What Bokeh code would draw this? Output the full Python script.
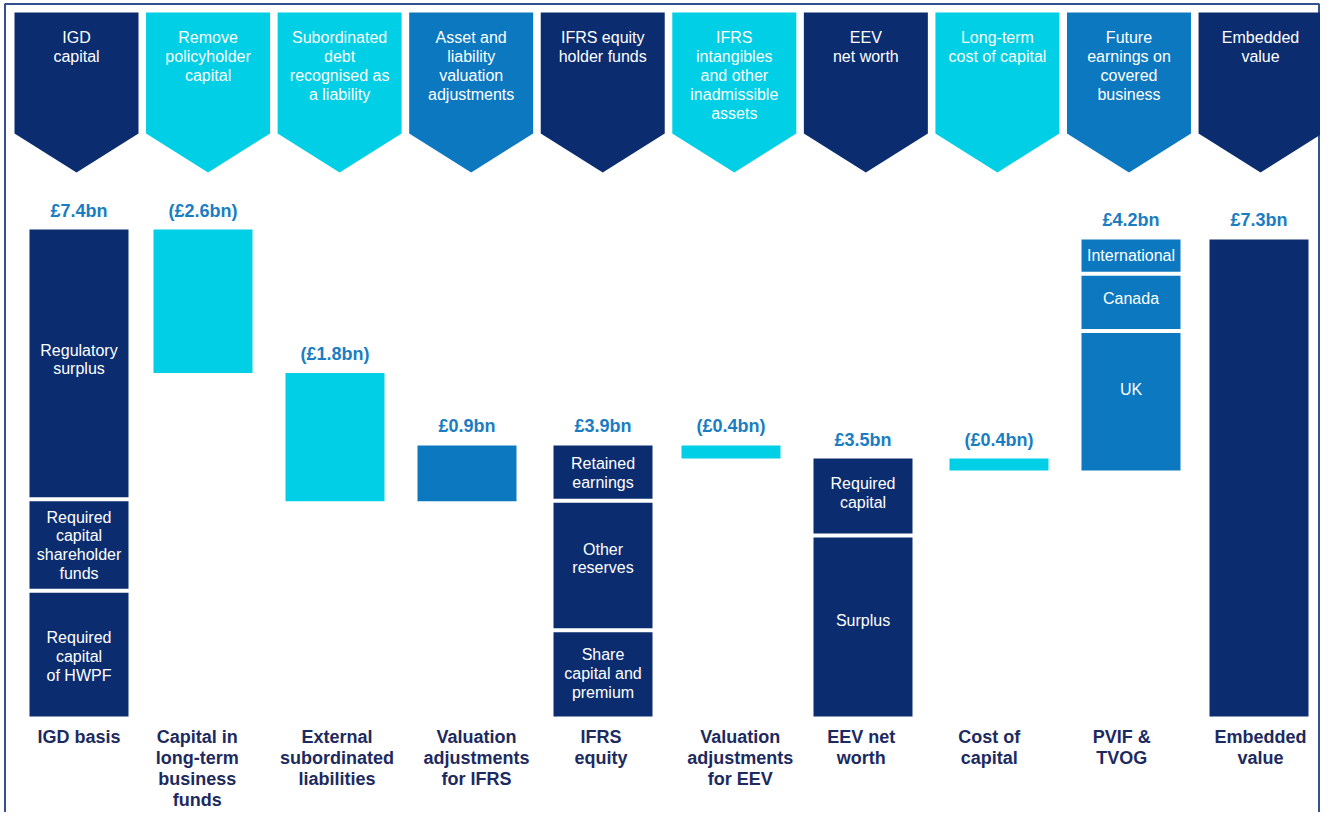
from bokeh.plotting import figure
from bokeh.models import Range1d, ColumnDataSource
from bokeh.core.properties import value
from bokeh.embed import file_html
from bokeh.resources import INLINE

# ---------------- data ----------------
headers = [
    "IGD\ncapital",
    "Remove\npolicyholder\ncapital",
    "Subordinated\ndebt\nrecognised as\na liability",
    "Asset and\nliability\nvaluation\nadjustments",
    "IFRS equity\nholder funds",
    "IFRS\nintangibles\nand other\ninadmissible\nassets",
    "EEV\nnet worth",
    "Long-term\ncost of capital",
    "Future\nearnings on\ncovered\nbusiness",
    "Embedded\nvalue",
]
categories = [
    "IGD basis",
    "Capital in\nlong-term\nbusiness\nfunds",
    "External\nsubordinated\nliabilities",
    "Valuation\nadjustments\nfor IFRS",
    "IFRS\nequity",
    "Valuation\nadjustments\nfor EEV",
    "EEV net\nworth",
    "Cost of\ncapital",
    "PVIF &\nTVOG",
    "Embedded\nvalue",
]
value_labels = ["£7.4bn", "(£2.6bn)", "(£1.8bn)", "£0.9bn", "£3.9bn",
                "(£0.4bn)", "£3.5bn", "(£0.4bn)", "£4.2bn", "£7.3bn"]
# waterfall bar extents in £bn (as drawn)
bar_bottom = [0.00, 5.22, 3.27, 3.27, 0.00, 3.92, 0.00, 3.74, 3.74, 0.00]
bar_top    = [7.40, 7.40, 5.22, 4.12, 4.12, 4.12, 3.92, 3.92, 7.25, 7.25]
kind = ["total", "neg", "neg", "adj", "total", "neg", "total", "neg", "adj", "total"]

# stacked components inside some bars
seg_col    = [0, 0, 0, 4, 4, 4, 6, 6, 8, 8, 8]
seg_bottom = [0.00, 1.91, 3.30, 0.00, 1.31, 3.28, 0.00, 2.75, 3.74, 5.86, 6.73]
seg_top    = [1.91, 3.30, 7.40, 1.31, 3.28, 4.12, 2.75, 3.92, 5.86, 6.73, 7.25]
seg_label  = ["Required\ncapital\nof HWPF", "Required\ncapital\nshareholder\nfunds",
              "Regulatory\nsurplus", "Share\ncapital and\npremium", "Other\nreserves",
              "Retained\nearnings", "Surplus", "Required\ncapital", "UK", "Canada",
              "International"]

# ---------------- style / layout (pixels) ----------------
NAVY = "#0b2d6f"
CYAN = "#00cfe5"
MID = "#0b78c0"
VAL_COLOR = "#1a7dc2"
CAT_COLOR = "#1c2a60"
color_of = {"total": NAVY, "neg": CYAN, "adj": MID}

bar_center_px = [78.5, 202.5, 334.5, 466.5, 602.5, 730.5, 862.5, 998.5, 1130.5, 1258.5]
cat_center_px = [78.4, 196.7, 336.5, 475.9, 600.6, 739.8, 860.7, 988.8, 1121.2, 1260.0]
seg_label_shift_px = [3, 0, -5, 0, -7, 0, -6, -4, -11, -4, -1]
BAR_HALF_PX = 49.5

W, H = 1320, 812
PX_BN = 65.8          # pixels per £bn
Y0 = 716              # pixel row of zero


def ypx(fy):  # pixel row -> data value
    return (Y0 - fy) / PX_BN


p = figure(width=W, height=H, output_backend="svg", toolbar_location=None,
           x_range=Range1d(0, W), y_range=Range1d(ypx(H), ypx(0)),
           x_axis_type=None, y_axis_type=None, min_border=0)
p.grid.visible = False
p.outline_line_color = None
p.background_fill_color = "white"
p.border_fill_color = "white"

n = len(categories)

# frame
fc = "#34508f"
p.multi_line(xs=[[4.5, 4.5, 1318.5, 1318.5]],
             ys=[[ypx(H + 20), ypx(3.5), ypx(3.5), ypx(H + 20)]],
             line_color=fc, line_width=2)

# chevrons
cxs, cys, ccol = [], [], []
for i in range(n):
    c = 76 + 131.56 * i
    cxs.append([c - 62, c + 62, c + 62, c, c - 62])
    cys.append([ypx(12), ypx(12), ypx(133), ypx(172), ypx(133)])
    ccol.append(color_of[kind[i]])
p.patches(xs=cxs, ys=cys, fill_color=ccol, line_color=None)

hx, hy, ht = [], [], []
for i, h in enumerate(headers):
    c = 76 + 131.56 * i
    for k, line in enumerate(h.split("\n")):
        hx.append(c)
        hy.append(ypx(37 + 19 * k))
        ht.append(line)
p.text(x="x", y="y", text="t", source=ColumnDataSource(dict(x=hx, y=hy, t=ht)),
       text_font=value("Liberation Sans"), text_font_size="16px",
       text_color="white", text_align="center", text_baseline="middle")

# bars
p.quad(left=[x - BAR_HALF_PX for x in bar_center_px],
       right=[x + BAR_HALF_PX for x in bar_center_px],
       bottom=bar_bottom, top=bar_top,
       fill_color=[color_of[k] for k in kind], line_color=None)

# separators between stacked components
sx0, sx1, sy = [], [], []
for c, t in zip(seg_col, seg_top):
    if abs(t - bar_top[c]) > 1e-6:
        sx0.append(bar_center_px[c] - BAR_HALF_PX - 1)
        sx1.append(bar_center_px[c] + BAR_HALF_PX + 1)
        sy.append(t)
p.segment(x0=sx0, x1=sx1, y0=sy, y1=sy, line_color="white", line_width=4)

# component labels
lx, ly, lt = [], [], []
LH = 18.7 / PX_BN
for c, b, t, lab, sh in zip(seg_col, seg_bottom, seg_top, seg_label, seg_label_shift_px):
    lines = lab.split("\n")
    mid = (b + t) / 2 - sh / PX_BN
    for k, line in enumerate(lines):
        lx.append(bar_center_px[c])
        ly.append(mid + LH * ((len(lines) - 1) / 2 - k))
        lt.append(line)
p.text(x="x", y="y", text="t", source=ColumnDataSource(dict(x=lx, y=ly, t=lt)),
       text_font=value("Liberation Sans"), text_font_size="16px",
       text_color="white", text_align="center", text_baseline="middle")

# value labels
p.text(x=bar_center_px, y=[t + 19 / PX_BN for t in bar_top], text=value_labels,
       text_font=value("Liberation Sans"), text_font_size="18px",
       text_font_style="bold", text_color=VAL_COLOR,
       text_align="center", text_baseline="middle")

# category labels
cx, cy, ct = [], [], []
for i, cat in enumerate(categories):
    for k, line in enumerate(cat.split("\n")):
        cx.append(cat_center_px[i])
        cy.append(ypx(736 + 21.3 * k))
        ct.append(line)
p.text(x="x", y="y", text="t", source=ColumnDataSource(dict(x=cx, y=cy, t=ct)),
       text_font=value("Liberation Sans"), text_font_size="18px",
       text_font_style="bold", text_color=CAT_COLOR,
       text_align="center", text_baseline="middle")

open("out.html", "w").write(file_html(p, INLINE))
